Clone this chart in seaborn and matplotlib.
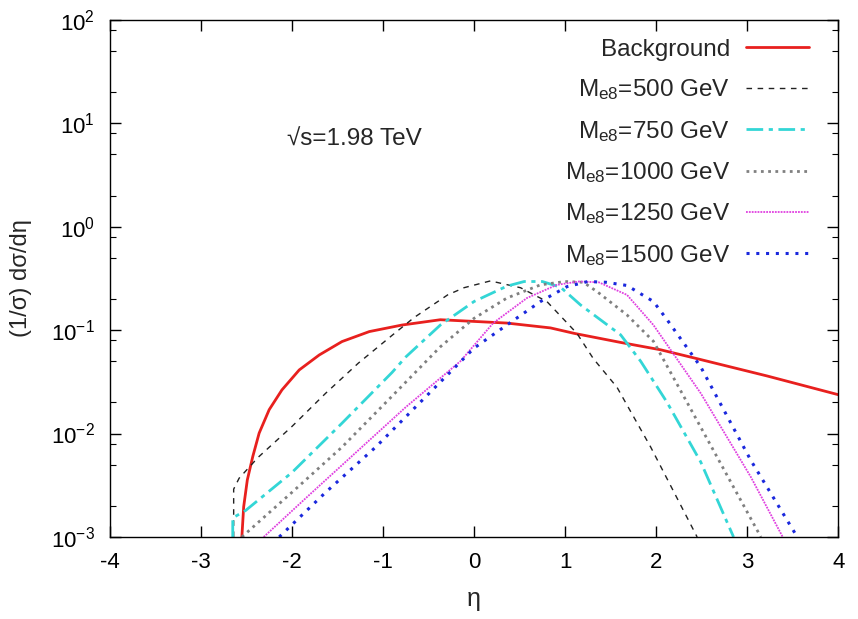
import matplotlib
matplotlib.use('Agg')
import matplotlib.pyplot as plt
import matplotlib.ticker as mticker
import numpy as np
import pandas as pd
import seaborn as sns

# Values (eta, normalised distribution)
eta_bg = [-2.55, -2.53, -2.49, -2.43, -2.36, -2.25, -2.11, -1.92, -1.70, -1.45, -1.15, -0.79, -0.37, 0.36, 0.84, 1.10, 1.61, 2.05, 2.41, 3.22, 4.02]
val_bg = [0.001, 0.00196, 0.00356, 0.006, 0.0101, 0.017, 0.0264, 0.0412, 0.0575, 0.0775, 0.0968, 0.112, 0.126, 0.117, 0.105, 0.093, 0.076, 0.0645, 0.054, 0.036, 0.0235]

eta_500 = [-2.64, -2.64, -2.58, -2.37, -2.00, -1.63, -1.27, -0.90, -0.66, -0.29, -0.11, 0.18, 0.51, 0.80, 1.13, 1.31, 1.57, 1.94, 2.45]
val_500 = [0.001, 0.0029, 0.0037, 0.0059, 0.0117, 0.0245, 0.048, 0.089, 0.132, 0.219, 0.257, 0.299, 0.257, 0.189, 0.093, 0.053, 0.028, 0.0074, 0.001]

eta_750 = [-2.65, -2.65, -2.51, -2.00, -1.45, -0.90, -0.75, -0.37, 0.00, 0.36, 0.55, 0.75, 0.95, 1.17, 1.61, 1.83, 2.12, 2.49, 2.85]
val_750 = [0.001, 0.00153, 0.0018, 0.0042, 0.0126, 0.039, 0.055, 0.112, 0.189, 0.266, 0.295, 0.295, 0.26, 0.175, 0.09, 0.050, 0.020, 0.0053, 0.001]

eta_1000 = [-2.55, -2.00, -1.45, -0.90, -0.37, 0.00, 0.36, 0.73, 1.00, 1.20, 1.35, 1.68, 1.97, 2.49, 3.15]
val_1000 = [0.001, 0.0027, 0.0074, 0.023, 0.069, 0.13, 0.204, 0.274, 0.295, 0.29, 0.236, 0.14, 0.078, 0.0115, 0.001]

eta_1250 = [-2.31, -1.82, -1.27, -0.75, -0.15, 0.21, 0.58, 0.91, 1.15, 1.37, 1.68, 1.97, 2.49, 3.04, 3.39]
val_1250 = [0.001, 0.0025, 0.0069, 0.018, 0.050, 0.117, 0.204, 0.274, 0.295, 0.29, 0.219, 0.112, 0.0245, 0.0038, 0.001]

eta_1500 = [-2.14, -1.63, -1.08, -0.75, 0.00, 0.36, 0.73, 1.02, 1.25, 1.45, 1.68, 1.97, 2.12, 2.49, 3.04, 3.55]
val_1500 = [0.001, 0.0027, 0.0074, 0.0145, 0.067, 0.112, 0.189, 0.263, 0.295, 0.29, 0.27, 0.189, 0.126, 0.044, 0.0055, 0.001]

labels = ['Background', 'M$_{\\rm e8}$=500 GeV', 'M$_{\\rm e8}$=750 GeV',
          'M$_{\\rm e8}$=1000 GeV', 'M$_{\\rm e8}$=1250 GeV', 'M$_{\\rm e8}$=1500 GeV']

sns.set_theme(style='ticks')
plt.rcParams['font.family'] = ['Liberation Sans', 'DejaVu Sans']
plt.rcParams['mathtext.fontset'] = 'custom'
plt.rcParams['mathtext.rm'] = 'Liberation Sans'
plt.rcParams['mathtext.it'] = 'Liberation Sans:italic'
plt.rcParams['axes.unicode_minus'] = False

fig = plt.figure(figsize=(8.58, 6.19), dpi=100)
ax = fig.add_axes([0.128, 0.1325, 0.849, 0.8355])

series = [
    (eta_bg, val_bg, dict(color='#e8201e', linewidth=2.0, linestyle='-')),
    (eta_500, val_500, dict(color='#222222', linewidth=1.0, linestyle=(0, (4, 4)))),
    (eta_750, val_750, dict(color='#33d6d6', linewidth=2.0, linestyle=(0, (6, 2, 1.5, 2)))),
    (eta_1000, val_1000, dict(color='#808080', linewidth=2.0, linestyle=(0, (1, 1.6)))),
    (eta_1250, val_1250, dict(color='#e040e0', linewidth=1.3, linestyle=(0, (1, 0.6)))),
    (eta_1500, val_1500, dict(color='#1a28dd', linewidth=2.2, linestyle=(0, (1, 2.2)))),
]

for (x, y, style), lab in zip(series, labels):
    df = pd.DataFrame({'eta': x, 'val': y})
    sns.lineplot(data=df, x='eta', y='val', ax=ax, estimator=None, sort=False,
                 label=lab, **style)

ax.set_yscale('log')
ax.set_xlim(-4, 4)
ax.set_ylim(1e-3, 1e2)
ax.set_xticks(np.arange(-4, 5, 1))
ax.yaxis.set_major_locator(mticker.LogLocator(base=10, numticks=10))
ax.yaxis.set_minor_locator(mticker.LogLocator(base=10, subs=(2, 5, 8), numticks=10))
ax.yaxis.set_minor_formatter(mticker.NullFormatter())
ax.tick_params(which='both', direction='in', top=True, right=True, labelsize=16, colors='black')
ax.tick_params(which='major', length=8, width=1)
ax.tick_params(which='minor', length=4, width=0.8)
ax.tick_params(axis='x', pad=11)
ax.tick_params(axis='y', pad=11)
for s in ax.spines.values():
    s.set_color('black')
    s.set_linewidth(1.0)

ax.set_xlabel('η', fontsize=18, labelpad=10)
ax.set_ylabel('(1/σ) dσ/dη', fontsize=17, labelpad=13)

ax.text(-2.05, 6.9, '√s=1.98 TeV', fontsize=17.5, va='center', ha='left')

ax.legend(loc='upper right', bbox_to_anchor=(1.0, 1.02), frameon=False,
          markerfirst=False, fontsize=17.5,
          handlelength=2.6, handletextpad=0.65, labelspacing=0.68,
          borderaxespad=0.8, borderpad=0.4)

fig.savefig('out.png', dpi=100)
